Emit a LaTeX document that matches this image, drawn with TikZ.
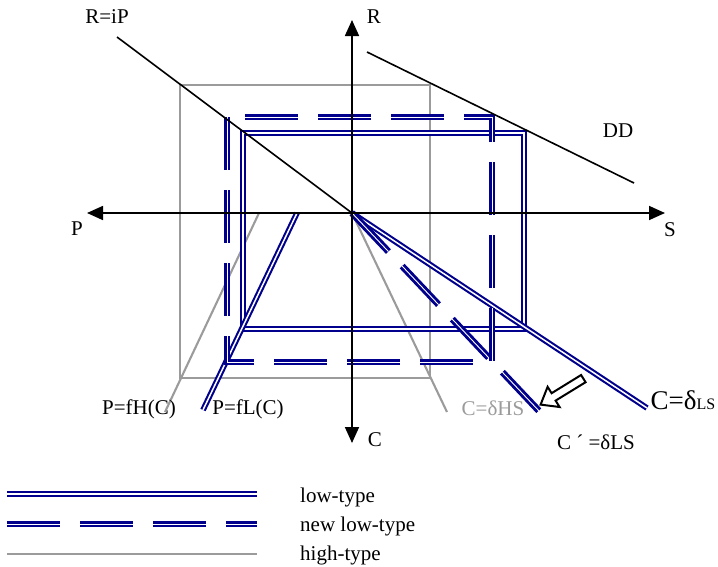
\documentclass[tikz,border=0pt]{standalone}
\usepackage{fontspec}
\setmainfont{Liberation Serif}
\usetikzlibrary{calc, positioning, arrows.meta}
\definecolor{lnavy}{RGB}{0,0,140}
\definecolor{hgray}{RGB}{155,155,155}

\begin{document}
\begin{tikzpicture}[x=1pt, y=-1pt,
  lbl/.style={inner sep=0pt, font=\fontsize{21}{24}\selectfont},
  axis/.style={line width=1.7pt, -{Triangle[length=16pt, width=14pt]}},
  blk/.style={line width=1.6pt},
  hi/.style={draw=hgray, line width=2.1pt},
  lo/.style={draw=lnavy, double=white, line width=2.1pt, double distance=1.5pt, line join=miter},
  newlo/.style={lo, line width=2.9pt, double distance=0.9pt, dash pattern=on 53pt off 20pt}]
\useasboundingbox (0,0) rectangle (718,566);
\coordinate (O) at (352,213);
\coordinate (Pend) at (87,213);
\coordinate (Send) at (665,213);
\coordinate (Rend) at (352,20);
\coordinate (Cend) at (352,443);
% high type
\draw[hi] (180,85) rectangle (430,378);
\coordinate (fH1) at (259,213);
\coordinate (fH2) at (165,412);
\coordinate (dH2) at (447,412);
\draw[hi] (fH1) -- (fH2);
\draw[hi] (O) -- (dH2);
% low type
\draw[lo] (243,133) rectangle (524,329);
\coordinate (fL1) at (297,213);
\coordinate (fL2) at (203,410);
\coordinate (dL2) at (647,408);
\draw[lo] (fL1) -- (fL2);
\draw[lo] (O) -- (dL2);
% new low type
\coordinate (dN2) at (540,412);
\draw[newlo] (227,117) rectangle (492,362);
\draw[newlo] (O) -- (dN2);
% R=iP and DD
\coordinate (iP1) at (117,37);
\coordinate (DD1) at (367,52);
\coordinate (DD2) at (634,183);
\draw[blk] (iP1) -- (O);
\draw[blk] (DD1) -- (DD2);
% axes
\draw[axis] (O) -- (Pend);
\draw[axis] (O) -- (Send);
\draw[axis] (O) -- (Rend);
\draw[axis] (O) -- (Cend);
% shift arrow
\draw[line width=2pt, fill=white, line join=miter]
  (585.6,382.2) -- (555.6,400.6) -- (559.6,407.0) -- (540.6,404.6)
  -- (547.6,386.8) -- (551.6,393.2) -- (581.1,375.0) -- cycle;
% labels
\node[lbl] (iP) at (107,17) {R=iP};
\node[lbl] (R) at (374,17) {R};
\node[lbl] (DD) at (618,131) {DD};
\node[lbl] (P) at (77,229) {P};
\node[lbl] (S) at (670,230) {S};
\node[lbl] (C) at (375,440) {C};
\node[lbl] (fH) at (139,409) {P=fH(C)};
\node[lbl] (fL) at (248,409) {P=fL(C)};
\node[lbl, text=hgray] (dH) at (493,408) {C=δHS};
\node[lbl] (dL) at (683,400) {{\fontsize{27}{30}\selectfont C=δ}{\fontsize{16}{18}\selectfont LS}};
\node[lbl] (dN) at (596,442) {C ´ =δLS};
% legend
\coordinate (k1a) at (7,494);
\coordinate (k1b) at (257,494);
\coordinate (k2a) at (7,524);
\coordinate (k2b) at (257,524);
\coordinate (k3a) at (7,554);
\coordinate (k3b) at (257,554);
\draw[lo] (k1a) -- (k1b);
\draw[newlo] (k2a) -- (k2b);
\draw[hi] (k3a) -- (k3b);
\node[lbl, anchor=west] (k1) at (300,497) {low-type};
\node[lbl, anchor=west] (k2) at (300,526) {new low-type};
\node[lbl, anchor=west] (k3) at (300,555) {high-type};
\end{tikzpicture}
\end{document}
